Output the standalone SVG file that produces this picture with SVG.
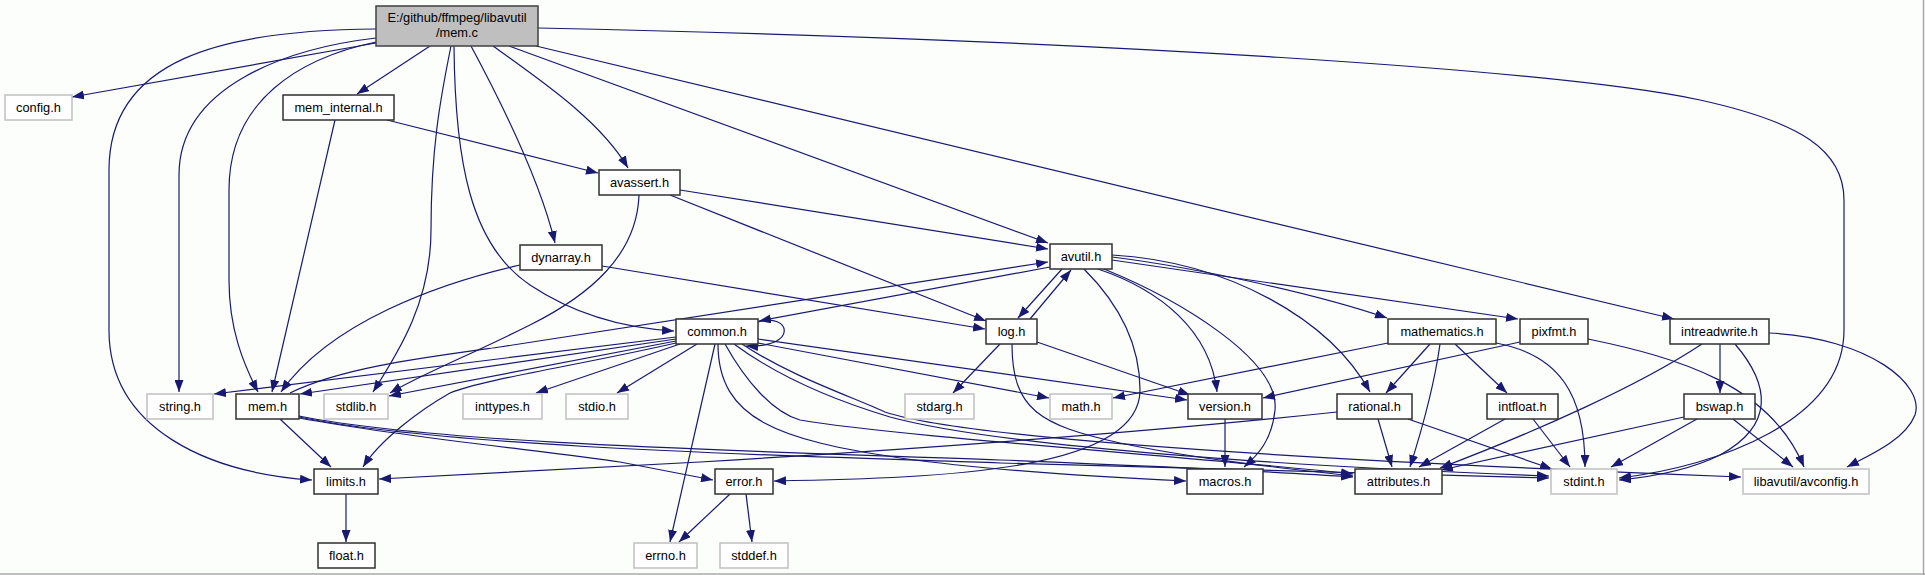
<svg xmlns="http://www.w3.org/2000/svg" width="1925" height="575" viewBox="0 0 1925 575">
<style>
.bg{fill:#fcfefc}
.n rect{fill:#ffffff;stroke:#303030;stroke-width:1.5}
.g rect{fill:#ffffff;stroke:#c0c0c0;stroke-width:1.5}
.r rect{fill:#bfbfbf;stroke:#404040;stroke-width:1.5}
text{font-family:"Liberation Sans",Arial,sans-serif;font-size:12.8px;text-anchor:middle;fill:#000}
.e path{fill:none;stroke:#191970;stroke-width:1.2;marker-end:url(#arr)}
</style>
<defs>
<marker id="arr" markerUnits="userSpaceOnUse" markerWidth="12" markerHeight="9" refX="12" refY="4.5" orient="auto">
<path d="M0,0 L12,4.5 L0,9 z" fill="#191970"/>
</marker>
</defs>
<rect class="bg" x="0" y="0" width="1925" height="575"/>
<line x1="1923.5" y1="0" x2="1923.5" y2="575" stroke="#a8a8a8" stroke-width="1.5"/>
<line x1="0" y1="574" x2="1925" y2="574" stroke="#a8a8a8" stroke-width="1.5"/>

<g class="e" id="edges">
<path d="M376,43 L72,97"/>
<path d="M430,46 L357,94"/>
<path d="M376,29 C220,30 109,60 109,170 L109,330 C109,430 210,473 312,480"/>
<path d="M376,38 C290,48 179,85 179,175 L179,392"/>
<path d="M376,42 C300,58 229,100 229,190 L229,280 C229,330 244,365 258,392"/>
<path d="M451,46 C440,100 431,150 431,230 C431,300 400,350 373,392"/>
<path d="M454,46 C455,160 470,245 530,285 C575,315 625,328 674,331"/>
<path d="M471,46 C500,100 540,180 555,243"/>
<path d="M493,46 C540,80 600,120 628,168"/>
<path d="M509,46 L1048,243"/>
<path d="M536,46 L1674,319"/>
<path d="M538,28 C1100,40 1560,70 1700,100 C1800,122 1844,150 1844,200 L1844,330 C1844,420 1720,466 1619,478"/>
<path d="M335,120 L272,392"/>
<path d="M387,120 L598,173"/>
<path d="M680,190 L1048,249"/>
<path d="M670,195 L986,321"/>
<path d="M639,195 C637,255 590,295 530,325 C470,355 420,375 390,393"/>
<path d="M520,265 C440,283 330,322 281,392"/>
<path d="M602,266 L985,329"/>
<path d="M1050,267 L759,321"/>
<path d="M1062,269 L1018,318"/>
<path d="M1030,319 L1071,270"/>
<path d="M1112,257 C1200,268 1320,295 1387,318"/>
<path d="M1112,260 L1518,319"/>
<path d="M1098,269 C1160,290 1210,330 1217,392"/>
<path d="M1104,269 C1180,300 1280,360 1275,410 C1272,440 1258,455 1244,467"/>
<path d="M1112,255 C1230,262 1330,320 1370,392"/>
<path d="M1084,269 C1115,300 1140,340 1140,390 C1140,470 950,478 774,481"/>
<path d="M1000,344 L953,393"/>
<path d="M1037,342 L1190,395"/>
<path d="M1012,344 C1012,410 1040,425 1120,443 C1200,460 1300,470 1353,476"/>
<path d="M758,322 C790,312 800,348 746,346"/>
<path d="M676,337 L214,394"/>
<path d="M676,339 L300,394"/>
<path d="M676,341 L389,396"/>
<path d="M680,344 L536,393"/>
<path d="M697,344 L617,393"/>
<path d="M676,343 C580,365 480,380 450,393 C420,410 380,440 363,467"/>
<path d="M715,344 L670,542"/>
<path d="M758,343 L1049,398"/>
<path d="M758,339 L1187,400"/>
<path d="M718,344 C718,420 780,440 900,458 C1000,472 1120,478 1186,481"/>
<path d="M725,344 C745,380 772,412 800,420 C900,437 1200,457 1353,474"/>
<path d="M734,344 C780,378 840,402 890,417 C1000,447 1300,467 1549,476"/>
<path d="M742,344 C790,376 850,396 885,412 C960,437 1250,458 1741,477"/>
<path d="M290,393 C340,368 420,358 500,347 L1048,262"/>
<path d="M280,419 L331,467"/>
<path d="M299,418 C420,440 560,452 620,462 L713,480"/>
<path d="M299,416 C450,446 800,452 1000,460 C1150,466 1280,472 1353,477"/>
<path d="M299,417 C450,448 800,456 1000,463 C1200,470 1400,474 1549,478"/>
<path d="M346,494 L346,542"/>
<path d="M730,494 L679,542"/>
<path d="M746,494 L752,542"/>
<path d="M1225,419 L1225,467"/>
<path d="M1388,343 L1113,398"/>
<path d="M1430,344 L1386,393"/>
<path d="M1440,344 C1435,380 1425,420 1410,467"/>
<path d="M1455,344 L1507,393"/>
<path d="M1496,343 C1560,355 1585,395 1585,467"/>
<path d="M1520,342 L1263,398"/>
<path d="M1588,339 C1680,358 1770,385 1804,467"/>
<path d="M1378,419 L1392,467"/>
<path d="M1408,419 L1552,469"/>
<path d="M1337,412 C1150,432 900,450 700,462 C550,470 450,476 379,479"/>
<path d="M1505,419 L1419,467"/>
<path d="M1533,419 L1570,467"/>
<path d="M1720,344 L1720,393"/>
<path d="M1702,344 C1640,385 1540,430 1440,468"/>
<path d="M1735,344 C1770,385 1775,425 1720,455 C1690,470 1650,477 1619,480"/>
<path d="M1769,333 C1870,338 1925,385 1915,415 C1905,440 1870,455 1847,467"/>
<path d="M1684,417 L1441,470"/>
<path d="M1697,419 L1611,467"/>
<path d="M1733,419 L1793,467"/>
</g>

<g id="mem_c" class="r"><rect x="376" y="6" width="162" height="40"/><text x="457" y="22">E:/github/ffmpeg/libavutil</text><text x="457" y="37">/mem.c</text></g>
<g id="config_h" class="g"><rect x="5" y="95" width="67" height="25"/><text x="38.5" y="112">config.h</text></g>
<g id="mem_internal_h" class="n"><rect x="283" y="95" width="111" height="25"/><text x="338.5" y="112">mem_internal.h</text></g>
<g id="avassert_h" class="n"><rect x="599" y="170" width="81" height="25"/><text x="639.5" y="187">avassert.h</text></g>
<g id="dynarray_h" class="n"><rect x="520" y="245" width="82" height="25"/><text x="561" y="262">dynarray.h</text></g>
<g id="avutil_h" class="n"><rect x="1050" y="244" width="62" height="25"/><text x="1081" y="261">avutil.h</text></g>
<g id="common_h" class="n"><rect x="676" y="319" width="82" height="25"/><text x="717" y="336">common.h</text></g>
<g id="log_h" class="n"><rect x="986" y="319" width="51" height="25"/><text x="1011.5" y="336">log.h</text></g>
<g id="mathematics_h" class="n"><rect x="1388" y="319" width="108" height="25"/><text x="1442" y="336">mathematics.h</text></g>
<g id="pixfmt_h" class="n"><rect x="1520" y="319" width="68" height="25"/><text x="1554" y="336">pixfmt.h</text></g>
<g id="intreadwrite_h" class="n"><rect x="1670" y="319" width="99" height="25"/><text x="1719.5" y="336">intreadwrite.h</text></g>
<g id="string_h" class="g"><rect x="147" y="394" width="66" height="25"/><text x="180" y="411">string.h</text></g>
<g id="mem_h" class="n"><rect x="236" y="394" width="63" height="25"/><text x="267.5" y="411">mem.h</text></g>
<g id="stdlib_h" class="g"><rect x="324" y="394" width="64" height="25"/><text x="356" y="411">stdlib.h</text></g>
<g id="inttypes_h" class="g"><rect x="463" y="394" width="79" height="25"/><text x="502.5" y="411">inttypes.h</text></g>
<g id="stdio_h" class="g"><rect x="566" y="394" width="62" height="25"/><text x="597" y="411">stdio.h</text></g>
<g id="stdarg_h" class="g"><rect x="905" y="394" width="69" height="25"/><text x="939.5" y="411">stdarg.h</text></g>
<g id="math_h" class="g"><rect x="1050" y="394" width="62" height="25"/><text x="1081" y="411">math.h</text></g>
<g id="version_h" class="n"><rect x="1188" y="394" width="74" height="25"/><text x="1225" y="411">version.h</text></g>
<g id="rational_h" class="n"><rect x="1337" y="394" width="75" height="25"/><text x="1374.5" y="411">rational.h</text></g>
<g id="intfloat_h" class="n"><rect x="1487" y="394" width="71" height="25"/><text x="1522.5" y="411">intfloat.h</text></g>
<g id="bswap_h" class="n"><rect x="1684" y="394" width="71" height="25"/><text x="1719.5" y="411">bswap.h</text></g>
<g id="limits_h" class="n"><rect x="314" y="469" width="64" height="25"/><text x="346" y="486">limits.h</text></g>
<g id="error_h" class="n"><rect x="715" y="469" width="58" height="25"/><text x="744" y="486">error.h</text></g>
<g id="macros_h" class="n"><rect x="1187" y="469" width="76" height="25"/><text x="1225" y="486">macros.h</text></g>
<g id="attributes_h" class="n"><rect x="1355" y="469" width="87" height="25"/><text x="1398.5" y="486">attributes.h</text></g>
<g id="stdint_h" class="g"><rect x="1551" y="469" width="66" height="25"/><text x="1584" y="486">stdint.h</text></g>
<g id="avconfig_h" class="g"><rect x="1743" y="469" width="126" height="25"/><text x="1806" y="486">libavutil/avconfig.h</text></g>
<g id="float_h" class="n"><rect x="318" y="543" width="57" height="25"/><text x="346.5" y="560">float.h</text></g>
<g id="errno_h" class="g"><rect x="634" y="543" width="63" height="25"/><text x="665.5" y="560">errno.h</text></g>
<g id="stddef_h" class="g"><rect x="720" y="543" width="68" height="25"/><text x="754" y="560">stddef.h</text></g>
</svg>
